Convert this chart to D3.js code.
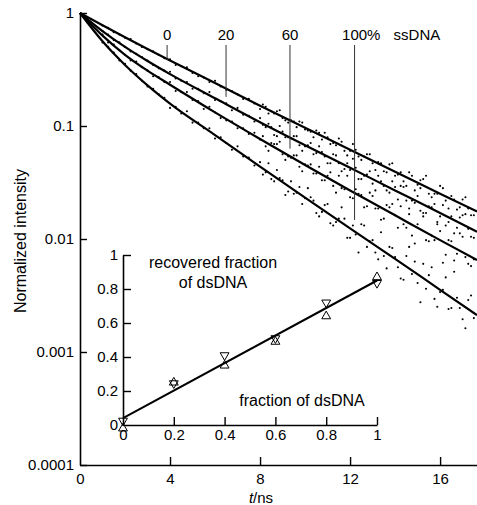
<!DOCTYPE html>
<html>
<head>
<meta charset="utf-8">
<script src="https://cdn.jsdelivr.net/npm/d3@7"></script>
<style>
  body { margin: 0; background: #fff; }
  svg { display: block; font-family: "Liberation Sans", Arial, sans-serif; }
</style>
</head>
<body>
<div id="chart"></div>
<script>
// fitted decay curves, sampled at fitTimes (ns)
const fitTimes = [0, 1, 2, 3, 4, 6, 8, 10, 12, 14, 16, 17.64]
const fit0 = [1, 0.780, 0.611, 0.481, 0.380, 0.240, 0.151, 0.0966, 0.0617, 0.0394, 0.0251, 0.0175]
const fit20 = [1, 0.692, 0.501, 0.376, 0.288, 0.176, 0.108, 0.0676, 0.0427, 0.0269, 0.0170, 0.0116]
const fit60 = [1, 0.631, 0.427, 0.309, 0.232, 0.132, 0.0767, 0.0452, 0.0269, 0.0162, 0.00977, 0.00652]
const fit100 = [1, 0.562, 0.347, 0.229, 0.158, 0.0832, 0.0437, 0.0232, 0.0124, 0.00668, 0.00355, 0.00212]

// measured points, log10 of normalized intensity, one per dotTimes entry
const dotTimes = d3.range(1, 17.75, 0.25)
const logI0 = [-0.11, -0.13, -0.17, -0.19, -0.22, -0.23, -0.27, -0.30, -0.32, -0.34, -0.37, -0.40, -0.41, -0.46, -0.47, -0.48, -0.53, -0.56, -0.57, -0.61, -0.60, -0.65, -0.68, -0.69, -0.72, -0.76, -0.76, -0.80, -0.85, -0.83, -0.87, -0.87, -0.93, -0.97, -0.96, -0.96, -1.03, -1.05, -1.04, -1.12, -1.10, -1.15, -1.11, -1.22, -1.22, -1.21, -1.30, -1.25, -1.33, -1.32, -1.40, -1.34, -1.44, -1.41, -1.53, -1.44, -1.52, -1.47, -1.60, -1.60, -1.53, -1.66, -1.62, -1.74, -1.65, -1.73, -1.79]
const logI20 = [-0.16, -0.19, -0.24, -0.26, -0.30, -0.34, -0.36, -0.39, -0.42, -0.46, -0.49, -0.51, -0.52, -0.58, -0.60, -0.61, -0.67, -0.67, -0.71, -0.70, -0.77, -0.78, -0.80, -0.86, -0.84, -0.90, -0.91, -0.96, -0.93, -1.01, -1.01, -1.09, -1.05, -1.10, -1.09, -1.17, -1.18, -1.15, -1.24, -1.23, -1.33, -1.25, -1.33, -1.38, -1.39, -1.37, -1.47, -1.43, -1.51, -1.44, -1.53, -1.59, -1.54, -1.53, -1.66, -1.66, -1.62, -1.77, -1.71, -1.69, -1.80, -1.88, -1.80, -1.90, -1.79, -1.91, -1.99]
const logI60 = [-0.19, -0.26, -0.28, -0.33, -0.37, -0.42, -0.43, -0.48, -0.51, -0.56, -0.57, -0.61, -0.61, -0.69, -0.70, -0.70, -0.77, -0.78, -0.85, -0.83, -0.88, -0.93, -0.95, -0.96, -1.02, -1.02, -1.07, -1.06, -1.12, -1.18, -1.15, -1.16, -1.25, -1.27, -1.26, -1.36, -1.34, -1.34, -1.42, -1.48, -1.44, -1.53, -1.44, -1.56, -1.63, -1.56, -1.61, -1.71, -1.62, -1.73, -1.82, -1.72, -1.79, -1.71, -1.90, -1.97, -1.87, -1.80, -2.02, -2.01, -1.93, -2.14, -2.02, -2.13, -1.98, -2.22, -2.18]
const logI100 = [-0.26, -0.30, -0.35, -0.42, -0.45, -0.51, -0.54, -0.60, -0.65, -0.67, -0.72, -0.75, -0.84, -0.83, -0.89, -0.87, -0.97, -0.97, -1.02, -1.02, -1.11, -1.10, -1.15, -1.21, -1.18, -1.27, -1.28, -1.35, -1.32, -1.41, -1.47, -1.39, -1.48, -1.58, -1.60, -1.54, -1.64, -1.63, -1.77, -1.76, -1.69, -1.88, -1.82, -1.82, -1.99, -1.96, -1.87, -2.07, -2.01, -2.18, -2.15, -2.07, -2.16, -2.35, -2.15, -2.31, -2.39, -2.22, -2.32, -2.53, -2.47, -2.34, -2.61, -2.52, -2.71, -2.54, -2.70]

// in-between channels at late times, where the scatter is widest
const lateTimes = d3.range(8.125, 17.5, 0.25)
const logI0b = [-0.81, -0.89, -0.89, -0.86, -0.95, -0.95, -1.01, -0.97, -1.04, -1.10, -1.06, -1.06, -1.16, -1.17, -1.14, -1.26, -1.16, -1.27, -1.27, -1.25, -1.39, -1.33, -1.41, -1.33, -1.43, -1.49, -1.41, -1.57, -1.48, -1.44, -1.63, -1.60, -1.55, -1.73, -1.65, -1.72, -1.63, -1.79]
const logI20b = [-0.99, -0.98, -1.08, -1.00, -1.10, -1.11, -1.09, -1.22, -1.17, -1.25, -1.18, -1.27, -1.33, -1.26, -1.40, -1.33, -1.29, -1.47, -1.44, -1.40, -1.57, -1.49, -1.57, -1.49, -1.65, -1.54, -1.73, -1.68, -1.55, -1.77, -1.72, -1.85, -1.70, -1.85, -1.95, -1.81, -1.78, -1.98]
const logI60b = [-1.09, -1.22, -1.16, -1.14, -1.30, -1.28, -1.26, -1.40, -1.35, -1.42, -1.36, -1.48, -1.41, -1.59, -1.55, -1.44, -1.64, -1.60, -1.72, -1.59, -1.73, -1.83, -1.70, -1.69, -1.90, -1.87, -1.78, -2.04, -1.75, -2.01, -1.97, -1.87, -2.21, -2.01, -2.19, -1.95, -2.16, -2.24]
const logI100b = [-1.43, -1.33, -1.49, -1.46, -1.61, -1.49, -1.59, -1.69, -1.55, -1.66, -1.80, -1.70, -1.86, -1.85, -1.72, -1.99, -1.88, -2.12, -1.88, -2.02, -2.12, -1.94, -2.26, -2.08, -2.25, -2.36, -2.07, -2.20, -2.56, -2.44, -2.25, -2.60, -2.45, -2.62, -2.29, -2.61, -2.79, -2.50]

// curve labels (% ssDNA)
const ssLabels = ['0', '20', '60', '100']
const labelTimes = [3.87, 6.49, 9.33, 12.2]
const labelEnds = [0.384, 0.181, 0.063, 0.0147]

// axes
const yTicks = [1, 0.1, 0.01, 0.001, 0.0001]
const yTickLabels = ['1', '0.1', '0.01', '0.001', '0.0001']
const xTicks = [0, 4, 8, 12, 16]

// inset: recovered vs true fraction of dsDNA
const dsFraction = [0, 0.2, 0.4, 0.6, 0.8, 1]
const recoveredUp = [-0.02, 0.25, 0.35, 0.49, 0.64, 0.87]
const recoveredDown = [0.025, 0.245, 0.41, 0.51, 0.72, 0.835]
const insetFit = [0.04, 0.85]
const insetTicks = [0, 0.2, 0.4, 0.6, 0.8, 1]

const width = 477
const height = 505

const svg = d3.select('#chart')
  .append('svg')
  .attr('width', width)
  .attr('height', height)

const x = d3.scaleLinear().domain([0, 17.64]).range([80, 477])
const y = d3.scaleLog().domain([0.0001, 1]).range([465, 13])

// dots
function drawDots (times, values) {
  svg.append('g')
    .selectAll('circle')
    .data(values)
    .enter()
    .append('circle')
    .attr('cx', (d, i) => x(times[i]))
    .attr('cy', d => y(Math.pow(10, d)))
    .attr('r', 1.05)
    .attr('fill', '#000')
}
;[logI0, logI20, logI60, logI100].forEach(s => drawDots(dotTimes, s))
;[logI0b, logI20b, logI60b, logI100b].forEach(s => drawDots(lateTimes, s))

// fitted curves
const line = d3.line()
  .x((d, i) => x(fitTimes[i]))
  .y(d => y(d))
  .curve(d3.curveMonotoneX)

;[fit0, fit20, fit60, fit100].forEach(f => {
  svg.append('path')
    .attr('d', line(f))
    .attr('fill', 'none')
    .attr('stroke', '#000')
    .attr('stroke-width', 2.2)
})

// curve labels
const labels = svg.append('g')
ssLabels.forEach((lab, i) => {
  const lx = x(labelTimes[i])
  labels.append('line')
    .attr('x1', lx).attr('x2', lx)
    .attr('y1', 45).attr('y2', y(labelEnds[i]))
    .attr('stroke', '#333')
    .attr('stroke-width', 1)
  labels.append('text')
    .attr('x', lx)
    .attr('y', 40)
    .attr('text-anchor', 'middle')
    .attr('font-size', 15)
    .text(lab)
  if (i === ssLabels.length - 1) {
    labels.append('text')
      .attr('x', lx + 12.5)
      .attr('y', 40)
      .attr('font-size', 15)
      .text('%')
    labels.append('text')
      .attr('x', lx + 39)
      .attr('y', 40)
      .attr('font-size', 15)
      .text('ssDNA')
  }
})

// main axes
const yAxis = d3.axisLeft(y)
  .tickValues(yTicks)
  .tickFormat((d, i) => yTickLabels[i])
  .tickSizeInner(-7)
  .tickSizeOuter(0)
  .tickPadding(6)
const gy = svg.append('g')
  .attr('transform', 'translate(80,0)')
  .call(yAxis)

const xAxis = d3.axisBottom(x)
  .tickValues(xTicks)
  .tickFormat(d3.format('d'))
  .tickSizeInner(-8)
  .tickSizeOuter(0)
  .tickPadding(8)
const gx = svg.append('g')
  .attr('transform', 'translate(0,465)')
  .call(xAxis)

;[gx, gy].forEach(g => {
  g.select('.domain').attr('stroke-width', 1.6)
  g.selectAll('.tick line').attr('stroke-width', 1.4)
  g.selectAll('text')
    .attr('font-size', 15)
    .attr('font-family', '"Liberation Sans", Arial, sans-serif')
    .attr('fill', '#000')
})
gx.selectAll('.tick').filter(d => d === 0).select('line').remove()

svg.append('text')
  .attr('transform', 'translate(26,241)rotate(-90)')
  .attr('text-anchor', 'middle')
  .attr('font-size', 16)
  .text('Normalized intensity')

const xLabel = svg.append('text')
  .attr('x', 261)
  .attr('y', 503)
  .attr('text-anchor', 'middle')
  .attr('font-size', 15)
xLabel.append('tspan').attr('font-style', 'italic').text('t')
xLabel.append('tspan').text('/ns')

// inset
const xi = d3.scaleLinear().domain([0, 1]).range([123, 377])
const yi = d3.scaleLinear().domain([0, 1]).range([425, 255])

const inset = svg.append('g')

const gyi = inset.append('g')
  .attr('transform', 'translate(123,0)')
  .call(d3.axisLeft(yi)
    .tickValues(insetTicks)
    .tickFormat(d3.format('~g'))
    .tickSizeInner(-8)
    .tickSizeOuter(0)
    .tickPadding(5))
const gxi = inset.append('g')
  .attr('transform', 'translate(0,425)')
  .call(d3.axisBottom(xi)
    .tickValues(insetTicks)
    .tickFormat(d3.format('~g'))
    .tickSizeInner(-8)
    .tickSizeOuter(0)
    .tickPadding(4))
;[gxi, gyi].forEach(g => {
  g.select('.domain').attr('stroke-width', 1.6)
  g.selectAll('.tick line').attr('stroke-width', 1.4)
  g.selectAll('text')
    .attr('font-size', 15)
    .attr('font-family', '"Liberation Sans", Arial, sans-serif')
    .attr('fill', '#000')
})
gxi.selectAll('.tick').filter(d => d === 0).select('line').remove()
gyi.selectAll('.tick').filter(d => d === 0).select('line').remove()

inset.append('line')
  .attr('x1', xi(0)).attr('y1', yi(insetFit[0]))
  .attr('x2', xi(1)).attr('y2', yi(insetFit[1]))
  .attr('stroke', '#000')
  .attr('stroke-width', 2)

const tri = d3.symbol(d3.symbolTriangle, 34)
inset.append('g')
  .selectAll('path')
  .data(recoveredUp)
  .enter()
  .append('path')
  .attr('d', tri)
  .attr('transform', (d, i) => `translate(${xi(dsFraction[i])},${yi(d)})`)
  .attr('fill', 'none')
  .attr('stroke', '#000')
  .attr('stroke-width', 1)
inset.append('g')
  .selectAll('path')
  .data(recoveredDown)
  .enter()
  .append('path')
  .attr('d', tri)
  .attr('transform', (d, i) => `translate(${xi(dsFraction[i])},${yi(d)})rotate(180)`)
  .attr('fill', 'none')
  .attr('stroke', '#000')
  .attr('stroke-width', 1)

inset.append('text')
  .attr('x', 213).attr('y', 268)
  .attr('text-anchor', 'middle')
  .attr('font-size', 16)
  .text('recovered fraction')
inset.append('text')
  .attr('x', 213).attr('y', 288)
  .attr('text-anchor', 'middle')
  .attr('font-size', 16)
  .text('of dsDNA')
inset.append('text')
  .attr('x', 302).attr('y', 406)
  .attr('text-anchor', 'middle')
  .attr('font-size', 16)
  .text('fraction of dsDNA')
</script>
</body>
</html>
